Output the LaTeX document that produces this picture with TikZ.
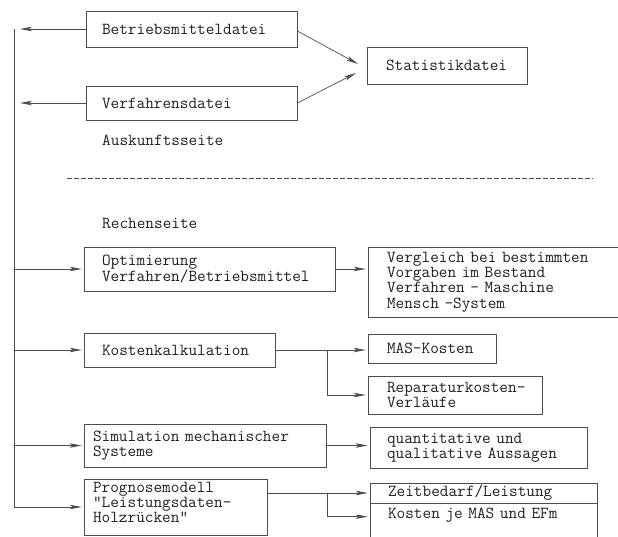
\documentclass[tikz,border=0pt]{standalone}
\usepackage{fontspec}
\usetikzlibrary{arrows.meta,calc}
\definecolor{linec}{gray}{0.3}
\definecolor{txtc}{gray}{0.12}
\newlength{\bxpad}
\setlength{\bxpad}{17pt}
\newcommand{\tw}{\ttfamily\fontsize{16.8}{15.4}\selectfont}
\tikzset{
  lpad/.code={\setlength{\bxpad}{#1}},
  bx/.style={draw=linec, line width=0.7pt, inner xsep=0pt, inner ysep=0pt,
    align=left, font=\tw, text=txtc,
    execute at begin node={\leftskip=\bxpad}},
  lbl/.style={anchor=west, inner sep=0pt, font=\tw, text=txtc},
  ln/.style={draw=linec, line width=0.7pt},
  arr/.style={ln, -{Stealth[length=12pt,width=4.5pt,inset=3pt,fill=linec]}},
}
\begin{document}
\begin{tikzpicture}[x=1pt,y=-1pt]
\useasboundingbox (0,0) rectangle (618,536);
% Auskunftsseite
\node[bx, lpad=16pt, text width=211pt, minimum height=36pt] (betr) at (191.5,29) {Betriebsmitteldatei};
\node[bx, lpad=16pt, text width=211pt, minimum height=34pt] (verf) at (191.5,103) {Verfahrensdatei};
\node[bx, lpad=19pt, text width=160pt, minimum height=37pt] (stat) at (447,65.5) {Statistikdatei};
\node[lbl] (ausk) at (102,140) {Auskunftsseite};
\coordinate (dl) at (67,178);
\coordinate (dr) at (593,178);
\draw[ln, dash pattern=on 4.5pt off 2.5pt] (dl) -- (dr);
% Rechenseite
\node[lbl] (rech) at (102,223) {Rechenseite};
\node[bx, lpad=18pt, text width=251pt, minimum height=44pt] (opt) at (209.5,269) {Optimierung\\Verfahren/Betriebsmittel};
\node[bx, lpad=19pt, text width=267pt, minimum height=70pt] (verg) at (501.5,282) {Vergleich bei bestimmten\\Vorgaben im Bestand\\Verfahren - Maschine\\Mensch -System};
\node[bx, lpad=18pt, text width=191pt, minimum height=34pt] (kost) at (179.5,350) {Kostenkalkulation};
\node[bx, lpad=19pt, text width=128pt, minimum height=29pt] (mas) at (432,348.5) {MAS-Kosten};
\node[bx, lpad=19pt, text width=174pt, minimum height=38pt] (rep) at (455,395) {Reparaturkosten-\\Verläufe};
\node[bx, lpad=9pt, text width=242pt, minimum height=43pt] (sim) at (205,445.5) {Simulation mechanischer\\Systeme};
\node[bx, lpad=17pt, text width=217pt, minimum height=41pt] (quant) at (478.5,447.5) {quantitative und\\qualitative Aussagen};
\node[bx, lpad=9pt, text width=183pt, minimum height=56pt, text depth=40pt] (prog) at (175.5,507) {Prognosemodell\\"Leistungsdaten-\\Holzrücken"};
\node[bx, lpad=18pt, text width=227pt, minimum height=20pt] (zeit) at (483.5,493) {Zeitbedarf/Leistung};
\node[bx, lpad=18pt, text width=227pt, minimum height=42pt, text depth=21pt] (kos2) at (483.5,524) {Kosten je MAS und EFm};
% left bus
\coordinate (ltop) at (14,29);
\coordinate (lbot) at (14,507);
\draw[ln] (ltop) -- (lbot);
\coordinate (a1) at (20,29);
\coordinate (a2) at (20,103);
\draw[arr] (betr.west) -- (a1);
\draw[arr] (verf.west) -- (a2);
\draw[arr, shorten >=2pt] (ltop |- opt.west) -- (opt.west);
\draw[arr, shorten >=2pt] (ltop |- kost.west) -- (kost.west);
\draw[arr, shorten >=2pt] (ltop |- sim.west) -- (sim.west);
\draw[arr, shorten >=2pt] (lbot) -- (prog.west);
% to Statistikdatei
\coordinate (s1) at (358,64);
\coordinate (s2) at (356,73);
\draw[arr] ($(betr.east)+(0,2)$) -- (s1);
\draw[arr] (verf.east) -- (s2);
% right side
\draw[arr, shorten >=2pt] (opt.east) -- (opt.east -| verg.west);
\coordinate (kj) at (327,350);
\draw[ln] (kost.east) -- (kj);
\draw[arr, shorten >=2pt] (kj) -- (kj -| mas.west);
\draw[arr, shorten >=2pt] (kj) |- (rep.west);
\draw[arr, shorten >=2pt] (sim.east) -- (sim.east -| quant.west);
\coordinate (pj) at (327,493);
\draw[ln] (prog.east |- pj) -- (pj);
\draw[arr, shorten >=2pt] (pj) -- (zeit.west);
\draw[arr, shorten >=2pt] (pj) |- ($(kos2.north west)+(0,14)$);
\end{tikzpicture}
\end{document}
